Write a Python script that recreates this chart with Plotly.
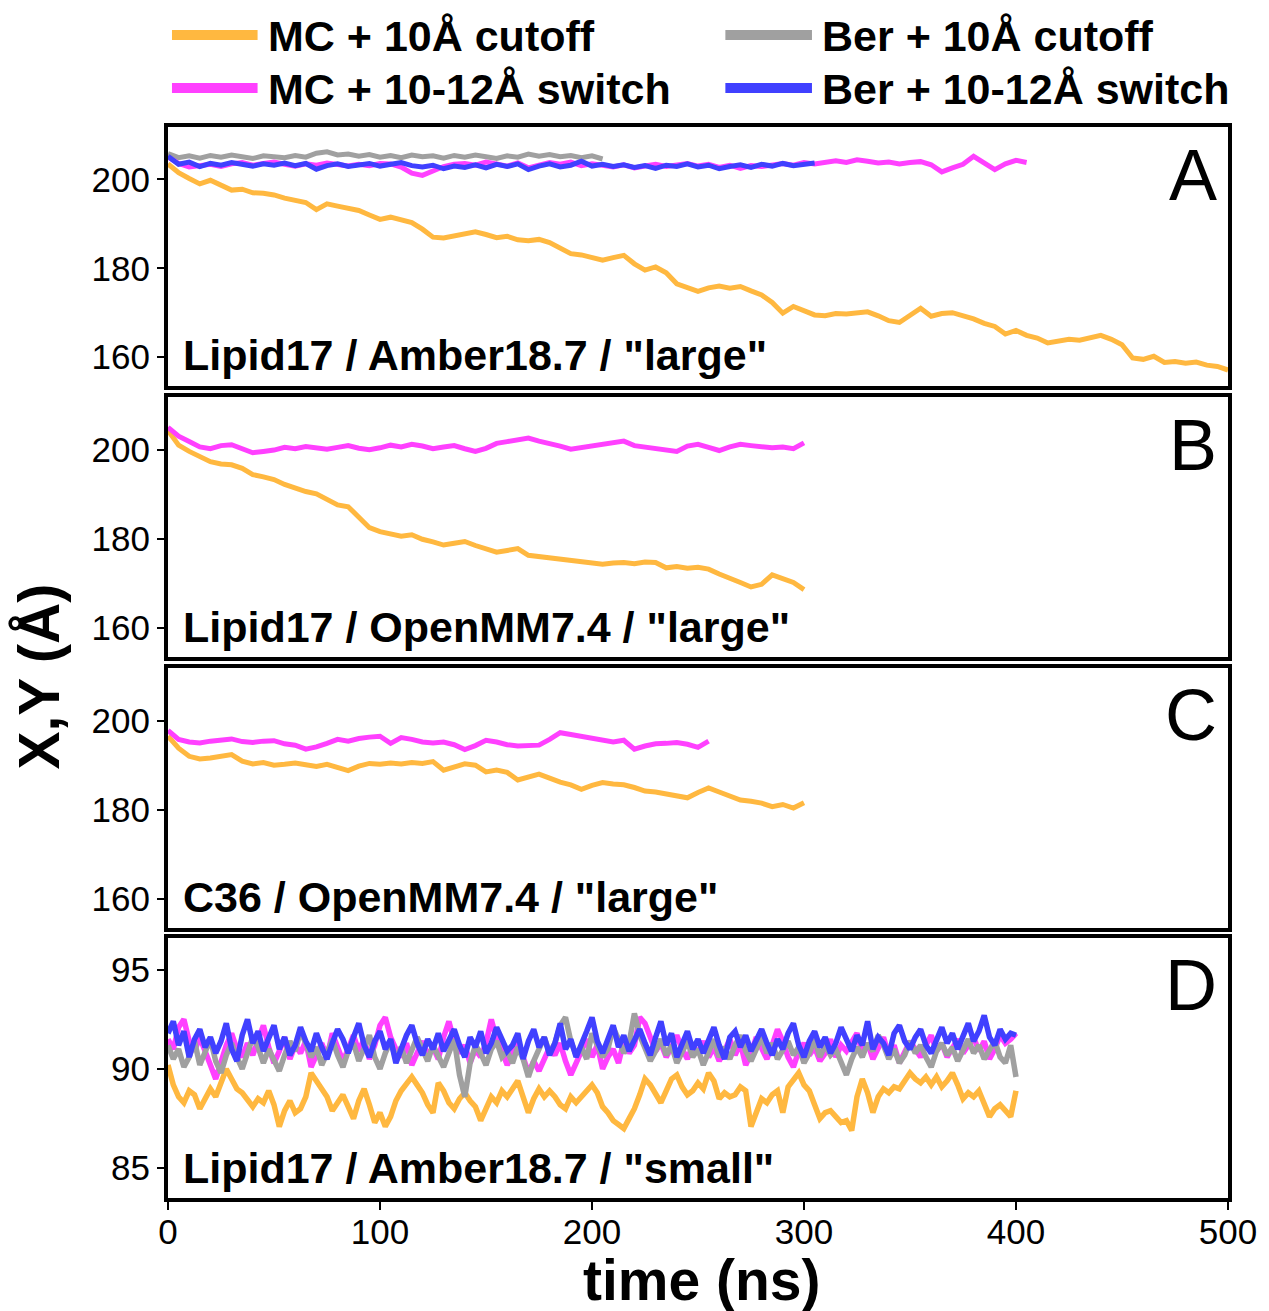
import numpy as np
import plotly.graph_objects as go
from plotly.subplots import make_subplots

# ---------------- data ----------------
# Panel A  (Lipid17 / Amber18.7 / "large"), sampled every 5 ns
A_step = 5
A_mc_cut = [203.5, 201.5, 200.2, 199.0, 199.8, 198.6, 197.6, 197.8, 197.0, 196.9,
            196.5, 195.8, 195.4, 194.8, 193.2, 194.5, 194.0, 193.4, 193.0, 192.0,
            191.0, 191.5, 190.8, 190.3, 188.8, 187.0, 186.8, 187.3, 187.8, 188.2,
            187.6, 186.9, 187.2, 186.4, 186.2, 186.5, 185.8, 184.6, 183.3, 183.0,
            182.5, 181.8, 182.4, 182.9, 181.0, 179.6, 180.3, 179.0, 176.5, 175.5,
            174.8, 175.6, 176.0, 175.5, 175.9, 174.9, 174.0, 172.3, 169.9, 171.4,
            170.3, 169.5, 169.3, 169.8, 169.7, 169.9, 170.2, 169.3, 168.2, 167.8,
            169.4, 171.0, 169.2, 169.8, 170.0, 169.4, 168.6, 167.6, 166.9, 165.2,
            166.0, 164.9, 164.3, 163.2, 163.5, 164.0, 163.8, 164.3, 164.9, 164.0,
            162.8, 159.8, 159.5, 160.2, 158.8, 159.0, 158.6, 158.9, 158.2, 157.9,
            157.1]
A_mc_sw = [205.0, 203.6, 202.8, 203.0, 203.4, 202.9, 203.5, 203.8, 203.2, 203.6,
           203.9, 203.4, 203.0, 203.5, 203.2, 203.7, 203.3, 203.0, 203.4, 203.1,
           203.6, 203.5, 202.8, 201.4, 200.9, 201.8, 202.9, 203.4, 203.6, 203.2,
           203.9, 203.5, 203.0, 203.7, 202.6, 203.2, 203.8, 203.4, 203.9, 203.1,
           203.5, 203.2, 202.8, 203.3, 202.6, 203.0, 203.4, 202.9, 203.3, 203.6,
           203.0, 203.4, 202.7, 203.2, 202.5, 203.1, 202.9, 203.3, 203.6, 203.2,
           203.8, 203.5, 203.9, 204.2, 203.8, 204.4, 204.1, 203.7, 203.9, 203.5,
           203.8, 204.0, 203.3, 201.7, 202.6, 203.4, 205.2, 203.8, 202.2, 203.5,
           204.3, 203.8]
A_ber_cut = [205.8, 204.9, 205.3, 204.8, 205.4, 205.0, 205.5, 205.1, 204.7, 205.3,
             205.2, 204.9, 205.4, 205.0, 205.9, 206.2, 205.5, 205.7, 205.2, 205.6,
             205.0, 205.4, 204.9, 205.5, 205.1, 205.3, 204.8, 205.4, 205.0, 205.5,
             205.1, 204.7, 205.3, 205.0, 205.7, 205.2, 205.6, 205.1, 205.4, 204.9,
             205.3, 204.6]
A_ber_sw = [205.2, 203.4, 203.9, 202.9, 203.6, 203.2, 203.8, 203.4, 203.0, 203.5,
            203.2, 203.7, 203.1, 203.6, 202.3, 203.1, 203.5, 202.9, 203.3, 203.6,
            203.0, 203.4, 203.8, 203.1, 202.8, 203.2, 202.4, 203.0, 202.7, 203.3,
            202.6, 203.4, 202.9, 203.5, 202.2, 203.0, 203.5, 202.8, 203.2, 204.1,
            203.0, 203.4, 202.9, 203.3, 202.7, 203.1, 202.5, 203.2, 202.9, 203.5,
            202.8, 203.2, 202.4, 202.9, 203.3, 202.7, 203.4, 203.0, 203.6, 203.1,
            203.5, 203.7]

# Panel B  (Lipid17 / OpenMM7.4 / "large"), every 5 ns
B_step = 5
B_mc_cut = [204.3, 201.0, 199.6, 198.4, 197.3, 196.8, 196.6, 195.8, 194.4, 193.9,
            193.3, 192.2, 191.3, 190.6, 190.1, 188.8, 187.6, 187.2, 184.8, 182.5,
            181.6, 181.0, 180.6, 180.9, 179.9, 179.3, 178.6, 179.0, 179.4, 178.5,
            177.6, 177.0, 177.4, 177.8, 176.3, 176.0, 175.7, 175.5, 175.1, 174.8,
            174.5, 174.3, 174.6, 174.7, 174.4, 174.8, 174.7, 173.5, 173.8, 173.4,
            173.6, 173.2, 172.1, 171.0, 170.2, 169.2, 169.8, 171.9, 171.0, 170.2,
            168.6]
B_mc_sw = [205.0, 203.0, 201.8, 200.6, 200.2, 200.9, 201.1, 200.3, 199.3, 199.6,
           199.9, 200.5, 200.2, 200.7, 200.4, 200.1, 200.5, 200.9, 200.3, 200.0,
           200.4, 201.0, 200.6, 201.2, 200.8, 200.2, 200.6, 200.9, 200.2, 199.6,
           200.3, 201.4, 201.8, 202.2, 202.6, 201.9, 201.4, 200.8, 200.1, 200.5,
           200.9, 201.3, 201.7, 201.9, 200.9, 200.6, 200.2, 199.9, 199.6, 200.8,
           201.2, 200.5, 199.8, 200.6, 201.2, 200.9, 200.7, 200.4, 200.6, 200.2,
           201.5]

# Panel C  (C36 / OpenMM7.4 / "large"), every 5 ns
C_step = 5
C_mc_cut = [196.5, 193.8, 192.0, 191.4, 191.6, 191.9, 192.4, 190.9, 190.3, 190.6,
            190.0, 190.2, 190.5, 190.1, 189.7, 190.2, 189.5, 188.8, 189.8, 190.4,
            190.2, 190.5, 190.3, 190.6, 190.4, 190.8, 188.9, 189.5, 190.3, 190.0,
            188.5, 188.9, 188.4, 186.7, 187.4, 188.0, 187.1, 186.2, 185.6, 184.6,
            185.5, 186.1, 185.8, 185.6, 185.0, 184.2, 184.0, 183.6, 183.1, 182.7,
            183.9, 184.9, 184.0, 183.0, 182.2, 181.9, 181.5, 180.7, 181.2, 180.4,
            181.6]
C_mc_sw = [197.8, 195.8, 195.2, 195.0, 195.4, 195.7, 195.9, 195.3, 195.1, 195.4,
           195.5, 194.8, 194.5, 193.6, 194.1, 194.9, 195.8, 195.4, 196.0, 196.3,
           196.5, 194.9, 196.2, 195.8, 195.2, 195.0, 195.2, 194.6, 193.5, 194.4,
           195.6, 195.2, 194.6, 194.3, 194.5, 194.5, 195.8, 197.3, 196.9, 196.5,
           196.0, 195.6, 195.2, 195.6, 193.6, 194.3, 194.8, 194.9, 195.1, 194.7,
           194.0, 195.4]

# Panel D  (Lipid17 / Amber18.7 / "small"), every 2.5 ns
D_step = 2.5
D_mc_cut = [90.2, 89.2, 88.6, 88.3, 88.9, 88.7, 88.0, 88.5, 89.0, 88.6,
            89.3, 90.0, 89.5, 89.0, 88.8, 88.4, 88.1, 88.5, 88.3, 88.9,
            88.2, 87.1, 87.9, 88.4, 87.8, 88.0, 88.6, 89.8, 89.4, 89.1,
            88.6, 87.9, 88.3, 88.7, 88.1, 87.5, 88.4, 89.0, 88.2, 87.3,
            87.8, 87.1, 87.6, 88.4, 88.9, 89.3, 89.6, 89.2, 88.8, 88.2,
            87.8, 89.3, 88.9, 88.3, 88.0, 88.5, 88.8, 88.4, 88.1, 87.4,
            88.0, 88.6, 88.3, 88.9, 88.6, 89.0, 89.4, 88.6, 87.8, 88.5,
            89.0, 88.6, 88.9, 88.6, 88.2, 88.0, 88.6, 88.3, 88.6, 88.9,
            89.2, 88.8, 88.1, 87.8, 87.4, 87.2, 87.0, 87.5, 88.0, 88.7,
            89.5, 89.2, 88.7, 88.3, 88.9, 89.5, 89.7, 89.1, 88.7, 88.9,
            89.3, 89.0, 89.8, 89.4, 88.5, 88.8, 88.6, 88.7, 89.1, 88.9,
            87.1, 87.8, 88.5, 88.3, 88.7, 88.9, 87.8, 89.1, 89.4, 89.8,
            89.2, 88.9, 88.2, 87.5, 87.8, 87.9, 87.6, 87.3, 87.4, 86.9,
            88.6, 89.5, 88.8, 87.8, 88.6, 89.0, 88.8, 89.1, 89.0, 89.4,
            89.8, 89.5, 89.3, 89.6, 89.2, 89.6, 89.1, 89.4, 89.8, 89.2,
            88.5, 88.8, 88.6, 88.9, 88.3, 87.6, 88.0, 88.2, 87.9, 87.6,
            88.9]
D_mc_sw = [91.5, 91.0, 92.1, 92.5, 91.4, 90.9, 91.6, 90.8, 90.2, 89.5,
           90.4, 91.2, 91.8, 91.0, 90.6, 91.3, 90.7, 91.5, 92.2, 91.1,
           90.3, 90.9, 91.6, 90.5, 91.2, 90.8, 91.4, 90.1, 90.7, 91.3,
           90.6, 91.8, 91.1, 90.4, 91.0, 91.7, 90.9, 91.5, 90.5, 91.2,
           92.2, 92.6, 91.6, 91.0, 90.6, 91.3, 90.2, 90.8, 91.4, 90.7,
           91.1, 90.5, 91.6, 92.4, 91.4, 90.8, 91.2, 90.3, 91.0, 90.6,
           91.3, 92.5, 91.5, 90.9, 90.2, 90.8, 91.4, 90.6, 89.8, 90.4,
           89.9, 90.5, 91.1, 90.7, 91.3, 90.4, 89.7, 90.3, 90.9, 91.5,
           90.6, 91.2, 90.0, 90.6, 91.0, 90.3, 91.4, 90.8, 91.2, 92.6,
           92.3, 91.5, 90.9, 91.3, 90.6, 91.1, 91.7, 91.0, 90.5, 91.2,
           90.8, 91.4, 90.6, 91.1, 90.4, 90.9, 91.5, 90.7, 91.3, 90.2,
           90.8, 91.6, 91.0, 90.5, 91.2, 92.0, 91.4, 90.6, 90.1, 90.9,
           91.3, 90.7, 91.1, 90.4, 90.8, 91.5, 90.6, 91.2, 90.9, 91.4,
           91.8, 90.8, 91.3, 90.5, 91.0, 91.6, 90.7, 91.2, 90.3, 90.8,
           91.4, 91.0, 90.6, 91.2, 91.7, 90.9, 91.3, 90.6, 91.1, 91.5,
           90.8, 91.2, 91.6, 90.9, 91.4, 90.5, 91.0, 91.7, 91.3, 91.5,
           91.8]
D_ber_cut = [91.2, 90.5, 91.0, 90.1, 90.6, 91.4, 90.2, 90.9, 91.5, 90.4,
             89.8, 90.7, 91.3, 90.6, 90.0, 90.8, 91.6, 91.1, 90.3, 91.0,
             90.5, 89.9, 90.7, 91.4, 90.9, 91.9, 91.3, 90.6, 91.1, 90.2,
             90.8, 91.5, 90.7, 90.1, 90.9, 91.3, 90.4, 91.0, 91.7, 90.6,
             90.0, 90.8, 91.4, 90.5, 91.1, 90.3, 90.9, 91.6, 91.0, 90.4,
             91.2, 90.7, 90.1, 90.8, 91.5, 89.7, 88.6, 90.3, 91.2, 90.8,
             90.2, 91.0, 91.4, 90.6, 90.9, 90.3, 91.1, 90.5, 89.6, 90.4,
             91.0, 91.6, 90.8, 91.3, 92.2, 92.6, 91.4, 90.7, 91.1, 90.5,
             91.8, 91.2, 90.6, 91.0, 92.1, 91.5, 90.8, 91.3, 92.8, 91.7,
             91.0, 90.4, 90.9, 91.5, 90.7, 91.2, 90.3, 90.8, 91.4, 90.6,
             91.0, 90.2, 90.9, 91.5, 90.6, 91.1, 90.5, 91.2, 91.7, 90.9,
             90.4, 91.0, 91.6, 90.8, 91.3, 90.5, 90.9, 91.4, 90.7, 91.1,
             90.3, 90.8, 91.5, 90.6, 91.2, 90.7, 91.0, 90.4, 89.7, 90.5,
             91.1, 90.6, 91.3, 90.9, 91.7, 91.2, 90.5, 91.0, 90.3, 90.7,
             91.4, 90.8, 91.2, 90.6, 90.1, 90.9, 91.3, 90.7, 91.1, 90.4,
             90.9, 91.5, 90.8, 91.2, 90.5, 91.0, 91.4, 90.6, 90.3, 91.2,
             89.6]
D_ber_sw = [91.8, 92.4, 91.2, 91.9, 90.6, 91.5, 92.0, 91.1, 91.6, 90.8,
            91.4, 92.3, 91.0, 90.4, 91.7, 92.5, 91.3, 91.9, 90.9, 91.5,
            92.2, 91.0, 91.6, 90.7, 91.2, 92.1, 91.4, 90.9, 91.8, 91.1,
            90.5, 91.3, 92.0, 91.5, 90.8, 91.6, 92.3, 91.2, 90.6, 91.4,
            91.9, 91.0, 91.5, 90.3, 91.1, 91.7, 92.2, 91.3, 90.7, 91.5,
            91.0, 91.8, 90.9, 91.4, 92.0, 91.2, 90.6, 91.6, 91.1, 91.9,
            90.8, 91.3, 92.1, 91.5, 90.9, 91.2, 91.8, 90.5, 91.4, 92.0,
            91.1, 91.6, 90.7, 91.3, 92.3, 91.0, 91.5, 90.6, 91.2, 91.9,
            92.6, 91.4, 90.8, 91.5, 92.2, 91.1, 91.7, 90.9, 91.4, 92.0,
            91.3, 90.7, 91.6, 92.4, 91.2, 91.8, 90.6, 91.3, 91.9, 91.0,
            91.5, 90.8, 91.4, 92.1, 91.2, 90.5, 91.6, 91.9, 91.1, 91.7,
            90.9, 91.4, 92.0, 91.3, 90.7, 91.5, 91.0, 91.8, 92.3, 91.2,
            90.6, 91.4, 91.9, 91.1, 91.6, 90.8, 91.3, 92.1, 91.5, 90.9,
            91.7, 91.2, 92.4, 91.0, 91.6, 91.3, 90.7, 91.8, 92.2, 91.4,
            91.0, 91.6, 92.0, 91.2, 90.8, 91.5, 92.1, 91.3, 91.8, 91.0,
            91.6, 92.3, 91.4, 91.9, 92.7, 91.6, 91.2, 92.0, 91.5, 91.8,
            91.7]

series_names = ["MC + 10Å cutoff", "MC + 10-12Å switch", "Ber + 10Å cutoff", "Ber + 10-12Å switch"]
panel_letters = ["A", "B", "C", "D"]
panel_labels = ['Lipid17 / Amber18.7 / "large"', 'Lipid17 / OpenMM7.4 / "large"',
                'C36 / OpenMM7.4 / "large"', 'Lipid17 / Amber18.7 / "small"']
yticks_large = [160, 180, 200]
yticks_small = [85, 90, 95]
xticks = [0, 100, 200, 300, 400, 500]

# ---------------- style ----------------
COL = {"MC + 10Å cutoff": "#FFB840", "MC + 10-12Å switch": "#FF40FF",
       "Ber + 10Å cutoff": "#A0A0A0", "Ber + 10-12Å switch": "#4040FF"}
FONT = "Liberation Sans, Arial, Helvetica, sans-serif"

def tvals(vals, step):
    return np.arange(len(vals)) * step

panels = [
    [(A_mc_cut, A_step, series_names[0]), (A_ber_cut, A_step, series_names[2]),
     (A_mc_sw, A_step, series_names[1]), (A_ber_sw, A_step, series_names[3])],
    [(B_mc_cut, B_step, series_names[0]), (B_mc_sw, B_step, series_names[1])],
    [(C_mc_cut, C_step, series_names[0]), (C_mc_sw, C_step, series_names[1])],
    [(D_mc_cut, D_step, series_names[0]), (D_mc_sw, D_step, series_names[1]),
     (D_ber_cut, D_step, series_names[2]), (D_ber_sw, D_step, series_names[3])],
]

fig = make_subplots(rows=4, cols=1, shared_xaxes=True, vertical_spacing=0.01)
for r, plist in enumerate(panels, start=1):
    lw = 5 if r < 4 else 5.5
    for vals, step, name in plist:
        fig.add_trace(go.Scatter(x=tvals(vals, step), y=vals, mode="lines", name=name,
                                 line=dict(color=COL[name], width=lw),
                                 showlegend=False), row=r, col=1)

# page has an 8px body margin: figure is sized/offset so the plot lands where the reference has it
OFF = 8
W, H = 1261, 1303
L, R, T, B = 160, 36, 119, 113
plot_h = H - T - B
panel_px = [(127, 386), (397, 657), (668, 928), (938, 1198)]   # page pixel rows of the panels
def py(y):
    return (H - B - (y - OFF)) / plot_h
def px(x):
    return (x - OFF - L) / (W - L - R)

axis_common = dict(showline=True, linecolor="black", linewidth=4, mirror=True,
                   showgrid=False, zeroline=False)
for i, (top, bot) in enumerate(panel_px, start=1):
    ya = "yaxis" if i == 1 else f"yaxis{i}"
    xa = "xaxis" if i == 1 else f"xaxis{i}"
    yrange = [153.5, 211.8] if i < 4 else [83.5, 96.6]
    ytv = yticks_large if i < 4 else yticks_small
    fig.layout[ya].update(domain=[py(bot), py(top)], range=yrange, tickvals=ytv,
                          ticks="outside", ticklen=7, tickwidth=2, tickcolor="black",
                          tickfont=dict(family=FONT, size=35, color="black"),
                          **axis_common)
    fig.layout[xa].update(range=[0, 500], **axis_common)
    if i < 4:
        fig.layout[xa].update(showticklabels=False, ticks="")
    else:
        fig.layout[xa].update(tickvals=xticks, ticks="outside", ticklen=8, tickwidth=2,
                              tickcolor="black", ticklabelstandoff=-8,
                              tickfont=dict(family=FONT, size=35, color="black"))

annotations = []
letter_y = [175, 445, 715, 985]
label_y = [355, 627, 897, 1168]
for i in range(4):
    annotations.append(dict(x=px(1224), y=py(letter_y[i]), xref="paper", yref="paper",
                            text=panel_letters[i], showarrow=False, xanchor="right",
                            yanchor="middle", font=dict(family=FONT, size=72, color="black")))
    annotations.append(dict(x=px(181), y=py(label_y[i]), xref="paper", yref="paper",
                            text=f"<b>{panel_labels[i]}</b>", showarrow=False,
                            xanchor="left", yanchor="middle",
                            font=dict(family=FONT, size=43, color="black")))
# axis titles
annotations.append(dict(x=px(705), y=py(1280), xref="paper", yref="paper",
                        text="<b>time (ns)</b>", showarrow=False, xanchor="center",
                        yanchor="middle", font=dict(family=FONT, size=57, color="black")))
annotations.append(dict(x=px(38), y=py(677), xref="paper", yref="paper",
                        text="<b>X,Y (Å)</b>", showarrow=False, textangle=-90,
                        xanchor="center", yanchor="middle",
                        font=dict(family=FONT, size=57, color="black")))

# legend (drawn as line swatches + labels)
shapes = []
leg_pos = [(172, 258, 35), (172, 258, 88), (728, 815, 35), (728, 815, 88)]
for name, (x0, x1, yy) in zip(series_names, leg_pos):
    shapes.append(dict(type="line", xref="paper", yref="paper",
                       x0=px(x0), x1=px(x1), y0=py(yy), y1=py(yy),
                       line=dict(color=COL[name], width=10)))
    annotations.append(dict(x=px(x1 + 8), y=py(yy + 1), xref="paper", yref="paper",
                            text=f"<b>{name}</b>", showarrow=False, xanchor="left",
                            yanchor="middle", font=dict(family=FONT, size=43, color="black")))

fig.update_layout(width=W, height=H, margin=dict(l=L, r=R, t=T, b=B),
                  paper_bgcolor="white", plot_bgcolor="white",
                  annotations=annotations, shapes=shapes, showlegend=False,
                  font=dict(family=FONT, color="black"))

fig.write_html("out.html")
